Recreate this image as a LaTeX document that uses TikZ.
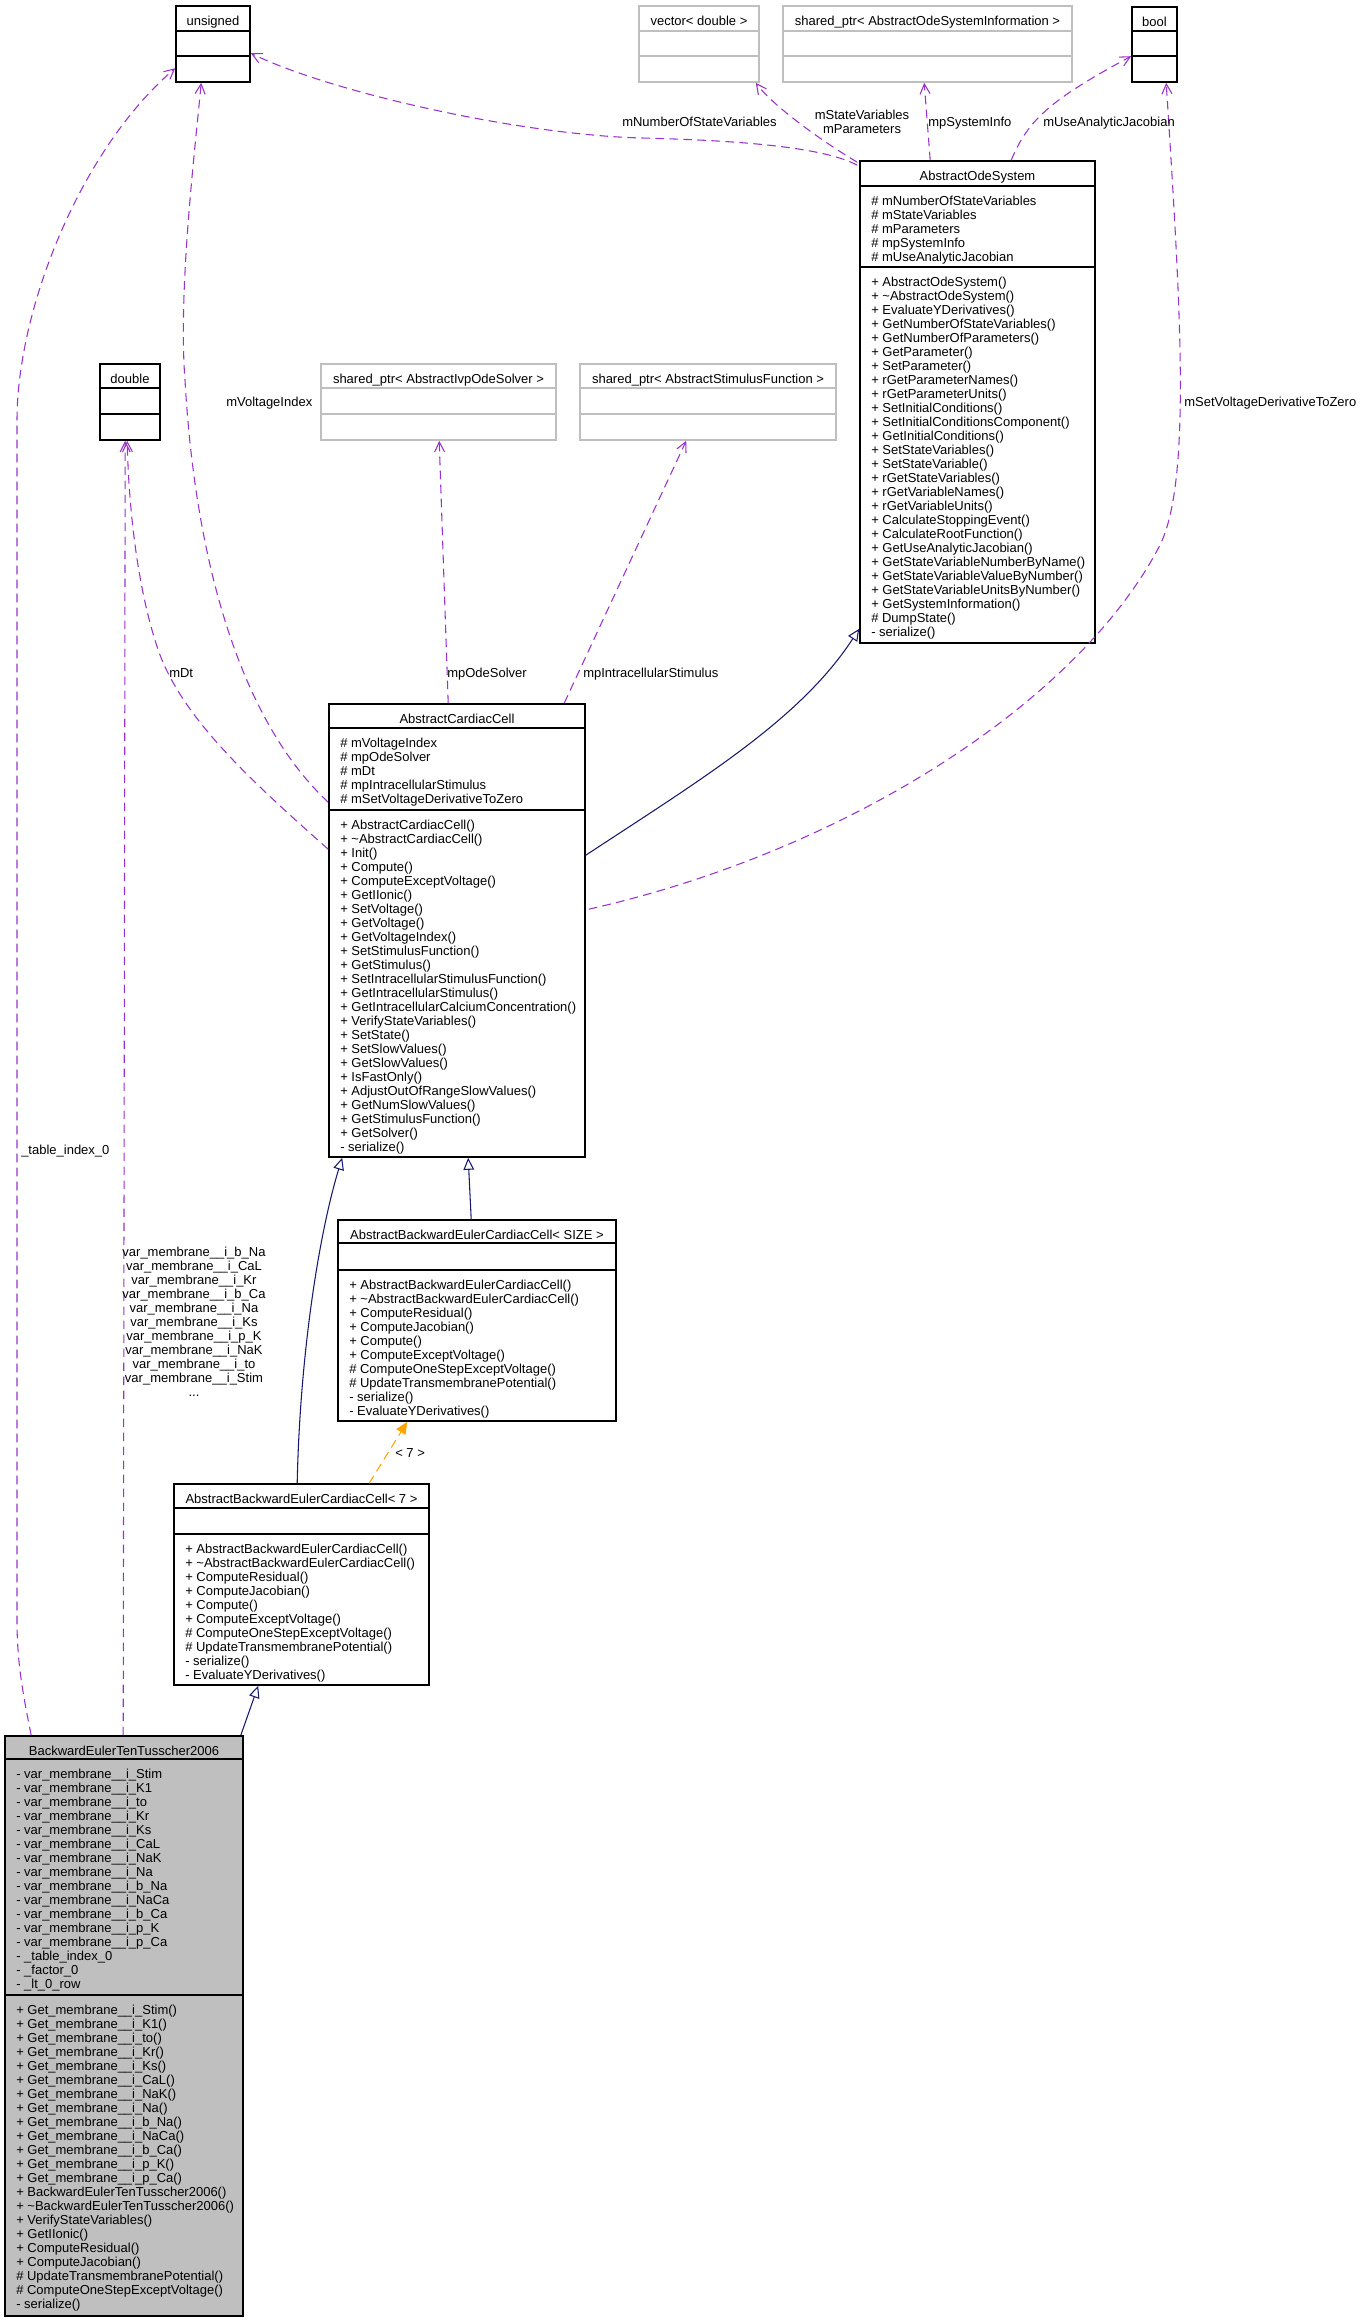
\documentclass[tikz,border=0pt]{standalone}
\usepackage{fontspec}
\setmainfont{Liberation Sans}
\usetikzlibrary{arrows.meta,calc,fit}
\definecolor{dpurple}{HTML}{9A32CD}
\definecolor{dnavy}{HTML}{191970}
\definecolor{dorange}{HTML}{FFA500}
\definecolor{dgray}{HTML}{BFBFBF}
\newcommand\fs{\fontsize{9.75pt}{10.5pt}\selectfont}
% name, style, left, top, right, bottom, header
\newcommand\ubox[7]{%
  \node[fit={(#3,#4) (#5,#6)}, #2] (#1) {};
  \node[htxt] (#1-h) at ({(#3+#5)/2},#4+19) {#7};}
% node, colour, offset from top
\newcommand\usep[3]{\draw[draw=#2,line width=1.2pt] ($(#1.north west)+(0,#3)$) -- ($(#1.north east)+(0,#3)$);}
% prefix, x, first baseline, list
\newcommand\boxlines[4]{%
  \foreach \lineTxt [count=\i from 0] in {#4} {\node[txt] (#1-\i) at (#2,#3+14*\i) {\lineTxt};}}
\begin{document}
\begin{tikzpicture}[x=0.75pt,y=-0.75pt,
  txt/.style={anchor=base west,inner sep=0pt,font=\fs},
  htxt/.style={anchor=base,inner sep=0pt,font=\fs},
  lbl/.style={anchor=base west,inner sep=0pt,font=\fs},
  clbl/.style={anchor=base,inner sep=0pt,font=\fs},
  cls/.style={draw=black,line width=1.2pt,inner sep=0pt},
  gcls/.style={draw=dgray,line width=1.2pt,inner sep=0pt},
  bcls/.style={draw=black,fill=dgray,line width=1.2pt,inner sep=0pt},
  dep/.style={draw=dpurple,line width=0.8pt,dash pattern=on 6.5pt off 4pt,-{Straight Barb[length=7.5pt,width=7.5pt]}},
  inh/.style={draw=dnavy,line width=0.8pt,-{Triangle[open,length=9pt,width=8pt]}},
  tpl/.style={draw=dorange,line width=0.8pt,dash pattern=on 6.5pt off 4pt,-{Triangle[length=9pt,width=8pt]}}]
\fill[white] (0,0) rectangle (1360,2320);
\useasboundingbox (0,0) rectangle (1360,2320);

% ---------- boxes ----------
\ubox{uns}{cls}{176}{6}{250}{82}{unsigned}
\usep{uns}{black}{26}\usep{uns}{black}{51}
\ubox{vec}{gcls}{639}{6}{759}{82}{vector< double >}
\usep{vec}{dgray}{26}\usep{vec}{dgray}{51}
\ubox{info}{gcls}{783}{6}{1072}{82}{shared\_ptr< AbstractOdeSystemInformation >}
\usep{info}{dgray}{26}\usep{info}{dgray}{51}
\ubox{bool}{cls}{1132}{7}{1177}{82}{bool}
\usep{bool}{black}{25}\usep{bool}{black}{50}

\ubox{aos}{cls}{860}{161}{1095}{643}{AbstractOdeSystem}
\usep{aos}{black}{26}\usep{aos}{black}{107}
\boxlines{aosa}{871}{205}{\# mNumberOfStateVariables,\# mStateVariables,\# mParameters,\# mpSystemInfo,\# mUseAnalyticJacobian}
\boxlines{aosm}{871}{286}{+ AbstractOdeSystem(),+ \textasciitilde AbstractOdeSystem(),+ EvaluateYDerivatives(),+ GetNumberOfStateVariables(),+ GetNumberOfParameters(),+ GetParameter(),+ SetParameter(),+ rGetParameterNames(),+ rGetParameterUnits(),+ SetInitialConditions(),+ SetInitialConditionsComponent(),+ GetInitialConditions(),+ SetStateVariables(),+ SetStateVariable(),+ rGetStateVariables(),+ rGetVariableNames(),+ rGetVariableUnits(),+ CalculateStoppingEvent(),+ CalculateRootFunction(),+ GetUseAnalyticJacobian(),+ GetStateVariableNumberByName(),+ GetStateVariableValueByNumber(),+ GetStateVariableUnitsByNumber(),+ GetSystemInformation(),\# DumpState(),- serialize()}

\ubox{dbl}{cls}{100}{364}{160}{440}{double}
\usep{dbl}{black}{25}\usep{dbl}{black}{51}
\ubox{ivp}{gcls}{321}{364}{556}{440}{shared\_ptr< AbstractIvpOdeSolver >}
\usep{ivp}{dgray}{25}\usep{ivp}{dgray}{51}
\ubox{stim}{gcls}{580}{364}{836}{440}{shared\_ptr< AbstractStimulusFunction >}
\usep{stim}{dgray}{25}\usep{stim}{dgray}{51}

\ubox{acc}{cls}{329}{704}{585}{1157}{AbstractCardiacCell}
\usep{acc}{black}{25}\usep{acc}{black}{107}
\boxlines{acca}{340}{747}{\# mVoltageIndex,\# mpOdeSolver,\# mDt,\# mpIntracellularStimulus,\# mSetVoltageDerivativeToZero}
\boxlines{accm}{340}{829}{+ AbstractCardiacCell(),+ \textasciitilde AbstractCardiacCell(),+ Init(),+ Compute(),+ ComputeExceptVoltage(),+ GetIIonic(),+ SetVoltage(),+ GetVoltage(),+ GetVoltageIndex(),+ SetStimulusFunction(),+ GetStimulus(),+ SetIntracellularStimulusFunction(),+ GetIntracellularStimulus(),+ GetIntracellularCalciumConcentration(),+ VerifyStateVariables(),+ SetState(),+ SetSlowValues(),+ GetSlowValues(),+ IsFastOnly(),+ AdjustOutOfRangeSlowValues(),+ GetNumSlowValues(),+ GetStimulusFunction(),+ GetSolver(),- serialize()}

\ubox{size}{cls}{338}{1220}{616}{1421}{AbstractBackwardEulerCardiacCell< SIZE >}
\usep{size}{black}{24}\usep{size}{black}{51}
\boxlines{sizem}{349}{1289}{+ AbstractBackwardEulerCardiacCell(),+ \textasciitilde AbstractBackwardEulerCardiacCell(),+ ComputeResidual(),+ ComputeJacobian(),+ Compute(),+ ComputeExceptVoltage(),\# ComputeOneStepExceptVoltage(),\# UpdateTransmembranePotential(),- serialize(),- EvaluateYDerivatives()}

\ubox{seven}{cls}{174}{1484}{429}{1685}{AbstractBackwardEulerCardiacCell< 7 >}
\usep{seven}{black}{25}\usep{seven}{black}{51}
\boxlines{sevenm}{185}{1553}{+ AbstractBackwardEulerCardiacCell(),+ \textasciitilde AbstractBackwardEulerCardiacCell(),+ ComputeResidual(),+ ComputeJacobian(),+ Compute(),+ ComputeExceptVoltage(),\# ComputeOneStepExceptVoltage(),\# UpdateTransmembranePotential(),- serialize(),- EvaluateYDerivatives()}

\ubox{bet}{bcls}{5}{1736}{243}{2316}{BackwardEulerTenTusscher2006}
\usep{bet}{black}{24}\usep{bet}{black}{260}
\boxlines{beta}{16}{1778}{- var\_membrane\_\_i\_Stim,- var\_membrane\_\_i\_K1,- var\_membrane\_\_i\_to,- var\_membrane\_\_i\_Kr,- var\_membrane\_\_i\_Ks,- var\_membrane\_\_i\_CaL,- var\_membrane\_\_i\_NaK,- var\_membrane\_\_i\_Na,- var\_membrane\_\_i\_b\_Na,- var\_membrane\_\_i\_NaCa,- var\_membrane\_\_i\_b\_Ca,- var\_membrane\_\_i\_p\_K,- var\_membrane\_\_i\_p\_Ca,- \_table\_index\_0,- \_factor\_0,- \_lt\_0\_row}
\boxlines{betm}{16}{2014}{+ Get\_membrane\_\_i\_Stim(),+ Get\_membrane\_\_i\_K1(),+ Get\_membrane\_\_i\_to(),+ Get\_membrane\_\_i\_Kr(),+ Get\_membrane\_\_i\_Ks(),+ Get\_membrane\_\_i\_CaL(),+ Get\_membrane\_\_i\_NaK(),+ Get\_membrane\_\_i\_Na(),+ Get\_membrane\_\_i\_b\_Na(),+ Get\_membrane\_\_i\_NaCa(),+ Get\_membrane\_\_i\_b\_Ca(),+ Get\_membrane\_\_i\_p\_K(),+ Get\_membrane\_\_i\_p\_Ca(),+ BackwardEulerTenTusscher2006(),+ \textasciitilde BackwardEulerTenTusscher2006(),+ VerifyStateVariables(),+ GetIIonic(),+ ComputeResidual(),+ ComputeJacobian(),\# UpdateTransmembranePotential(),\# ComputeOneStepExceptVoltage(),- serialize()}

% ---------- connectors ----------
\draw[dep] ($(aos.north west)+(-2,5)$) .. controls (820,145) and (720,140) .. (642,138) .. controls (520,135) and (330,92) .. ($(uns.north east)+(0,48)$);
\draw[dep] ($(aos.north west)+(-2,2)$) .. controls (820,140) and (772,105) .. ($(vec.south east)+(-4,0)$);
\draw[dep] ($(aos.north west)+(71,0)$) -- ($(info.south west)+(142,0)$);
\draw[dep] ($(aos.north west)+(152,0)$) .. controls (1028,120) and (1050,100) .. ($(bool.north west)+(0,50)$);

\draw[dep] ($(acc.north west)+(0,99)$) .. controls (240,720) and (195,560) .. (185,380) .. controls (178,290) and (195,150) .. ($(uns.south west)+(26,0)$);
\draw[dep] ($(acc.north west)+(0,146)$) .. controls (250,780) and (185,720) .. (160,655) .. controls (140,600) and (129,520) .. ($(dbl.south west)+(28,0)$);
\draw[dep] ($(acc.north west)+(120,0)$) -- ($(ivp.south west)+(119,0)$);
\draw[dep] ($(acc.north west)+(236,0)$) -- ($(stim.south west)+(107,0)$);
\draw[dep] ($(acc.north east)+(3,206)$) .. controls (850,850) and (1080,700) .. (1160,545) .. controls (1192,480) and (1180,300) .. ($(bool.south west)+(35,0)$);
\draw[inh] ($(acc.north east)+(0,152)$) .. controls (700,780) and (800,720) .. ($(aos.south west)+(0,-15)$);

\draw[dep] ($(bet.north west)+(119,0)$) -- ($(dbl.south west)+(26,0)$);
\draw[dep] ($(bet.north west)+(27,0)$) .. controls (22,1690) and (17,1660) .. (17,1620) -- (17,420) .. controls (17,310) and (80,150) .. ($(uns.north west)+(0,63)$);
\draw[inh] ($(bet.north east)+(-3,0)$) -- ($(seven.south west)+(85,0)$);

\draw[inh] ($(size.north west)+(134,0)$) -- ($(acc.south west)+(140,0)$);
\draw[inh] ($(seven.north west)+(124,0)$) .. controls (300,1350) and (320,1230) .. ($(acc.south west)+(14,0)$);
\draw[tpl] ($(seven.north west)+(196,0)$) -- ($(size.south west)+(70,0)$);

% ---------- labels ----------
\node[lbl] (l-nsv) at (622,126.5) {mNumberOfStateVariables};
\node[clbl] (l-sv) at (862,119.5) {mStateVariables};
\node[clbl] (l-par) at (862,133.5) {mParameters};
\node[lbl] (l-si) at (928,126.5) {mpSystemInfo};
\node[lbl] (l-uaj) at (1043,126.5) {mUseAnalyticJacobian};
\node[lbl] (l-vi) at (226,406.5) {mVoltageIndex};
\node[lbl] (l-svd) at (1184,406.5) {mSetVoltageDerivativeToZero};
\node[lbl] (l-dt) at (169,677.5) {mDt};
\node[lbl] (l-ode) at (447,677.5) {mpOdeSolver};
\node[lbl] (l-ics) at (583,677.5) {mpIntracellularStimulus};
\node[lbl] (l-ti) at (21,1154.5) {\_table\_index\_0};
\foreach \lineTxt [count=\i from 0] in {var\_membrane\_\_i\_b\_Na,var\_membrane\_\_i\_CaL,var\_membrane\_\_i\_Kr,var\_membrane\_\_i\_b\_Ca,var\_membrane\_\_i\_Na,var\_membrane\_\_i\_Ks,var\_membrane\_\_i\_p\_K,var\_membrane\_\_i\_NaK,var\_membrane\_\_i\_to,var\_membrane\_\_i\_Stim}
  {\node[clbl] (l-var-\i) at (194,1256.5+14*\i) {\lineTxt};}
\node[clbl] (l-var-dots) at (194,1396.5) {...};
\node[lbl] (l-seven) at (395,1457.5) {< 7 >};
\end{tikzpicture}
\end{document}
